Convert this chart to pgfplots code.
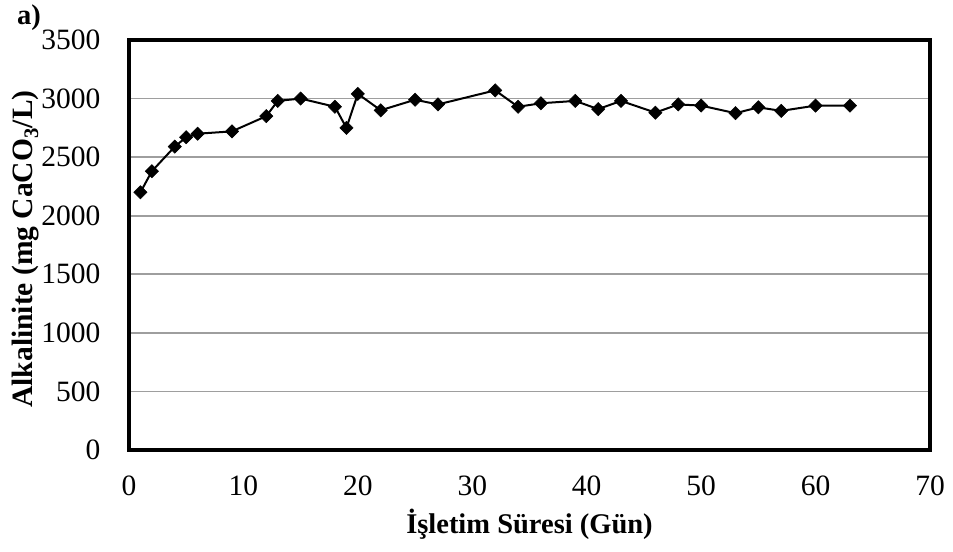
\documentclass[border=0pt]{standalone}
\usepackage{fontspec}
\setmainfont{Liberation Serif}
\usepackage{pgfplots}
\pgfplotsset{compat=1.18}
\newcommand{\chartfont}{\fontsize{28.5bp}{33bp}\selectfont}
\newcommand{\tickfont}{\fontsize{29.5bp}{34bp}\selectfont}
\newcommand{\ylabfont}{\fontsize{29.5bp}{34bp}\selectfont}
\begin{document}
\begin{tikzpicture}
\useasboundingbox (-129bp,-102bp) rectangle (824bp,450bp);
\begin{axis}[
  at={(0,0)}, anchor=south west,
  scale only axis,
  width=801bp, height=410bp,
  xmin=0, xmax=70, ymin=0, ymax=3500,
  xtick={0,10,...,70},
  ytick={0,500,...,3500},
  major tick length=0pt,
  /pgf/number format/assume math mode=true,
  /pgf/number format/1000 sep={},
  scaled ticks=false,
  font=\chartfont,
  tick label style={font=\tickfont},
  yticklabel style={anchor=east, xshift=-25bp},
  xticklabel style={anchor=north, yshift=-22bp},
  axis line style={line width=4bp, black},
  ymajorgrids,
  grid style={color=black!38, line width=1.6bp},
  xlabel={\bfseries İşletim Süresi (Gün)},
  ylabel={\bfseries Alkalinite (mg CaCO\textsubscript{3}/L)},
  xlabel style={at={(axis description cs:0.5,0)}, anchor=base, yshift=-83bp, font=\chartfont},
  ylabel style={at={(axis description cs:0,0.5)}, anchor=base, yshift=96bp, xshift=-4bp, font=\ylabfont},
  clip=false,
]
\addplot[black, line width=2bp, mark=square*, mark size=4.7bp, mark options={rotate=45, fill=black, line width=0.5bp}]
coordinates {
(1,2200) (2,2380) (4,2590) (5,2670) (6,2700) (9,2720) (12,2850) (13,2980)
(15,3000) (18,2930) (19,2750) (20,3040) (22,2900) (25,2990) (27,2950)
(32,3070) (34,2930) (36,2960) (39,2980) (41,2910) (43,2980) (46,2880)
(48,2950) (50,2940) (53,2875) (55,2925) (57,2895) (60,2940) (63,2940)
};
\end{axis}
\node[anchor=base west, inner sep=0pt, font=\chartfont\bfseries] at (-112bp,425bp) {a)};
\end{tikzpicture}
\end{document}
